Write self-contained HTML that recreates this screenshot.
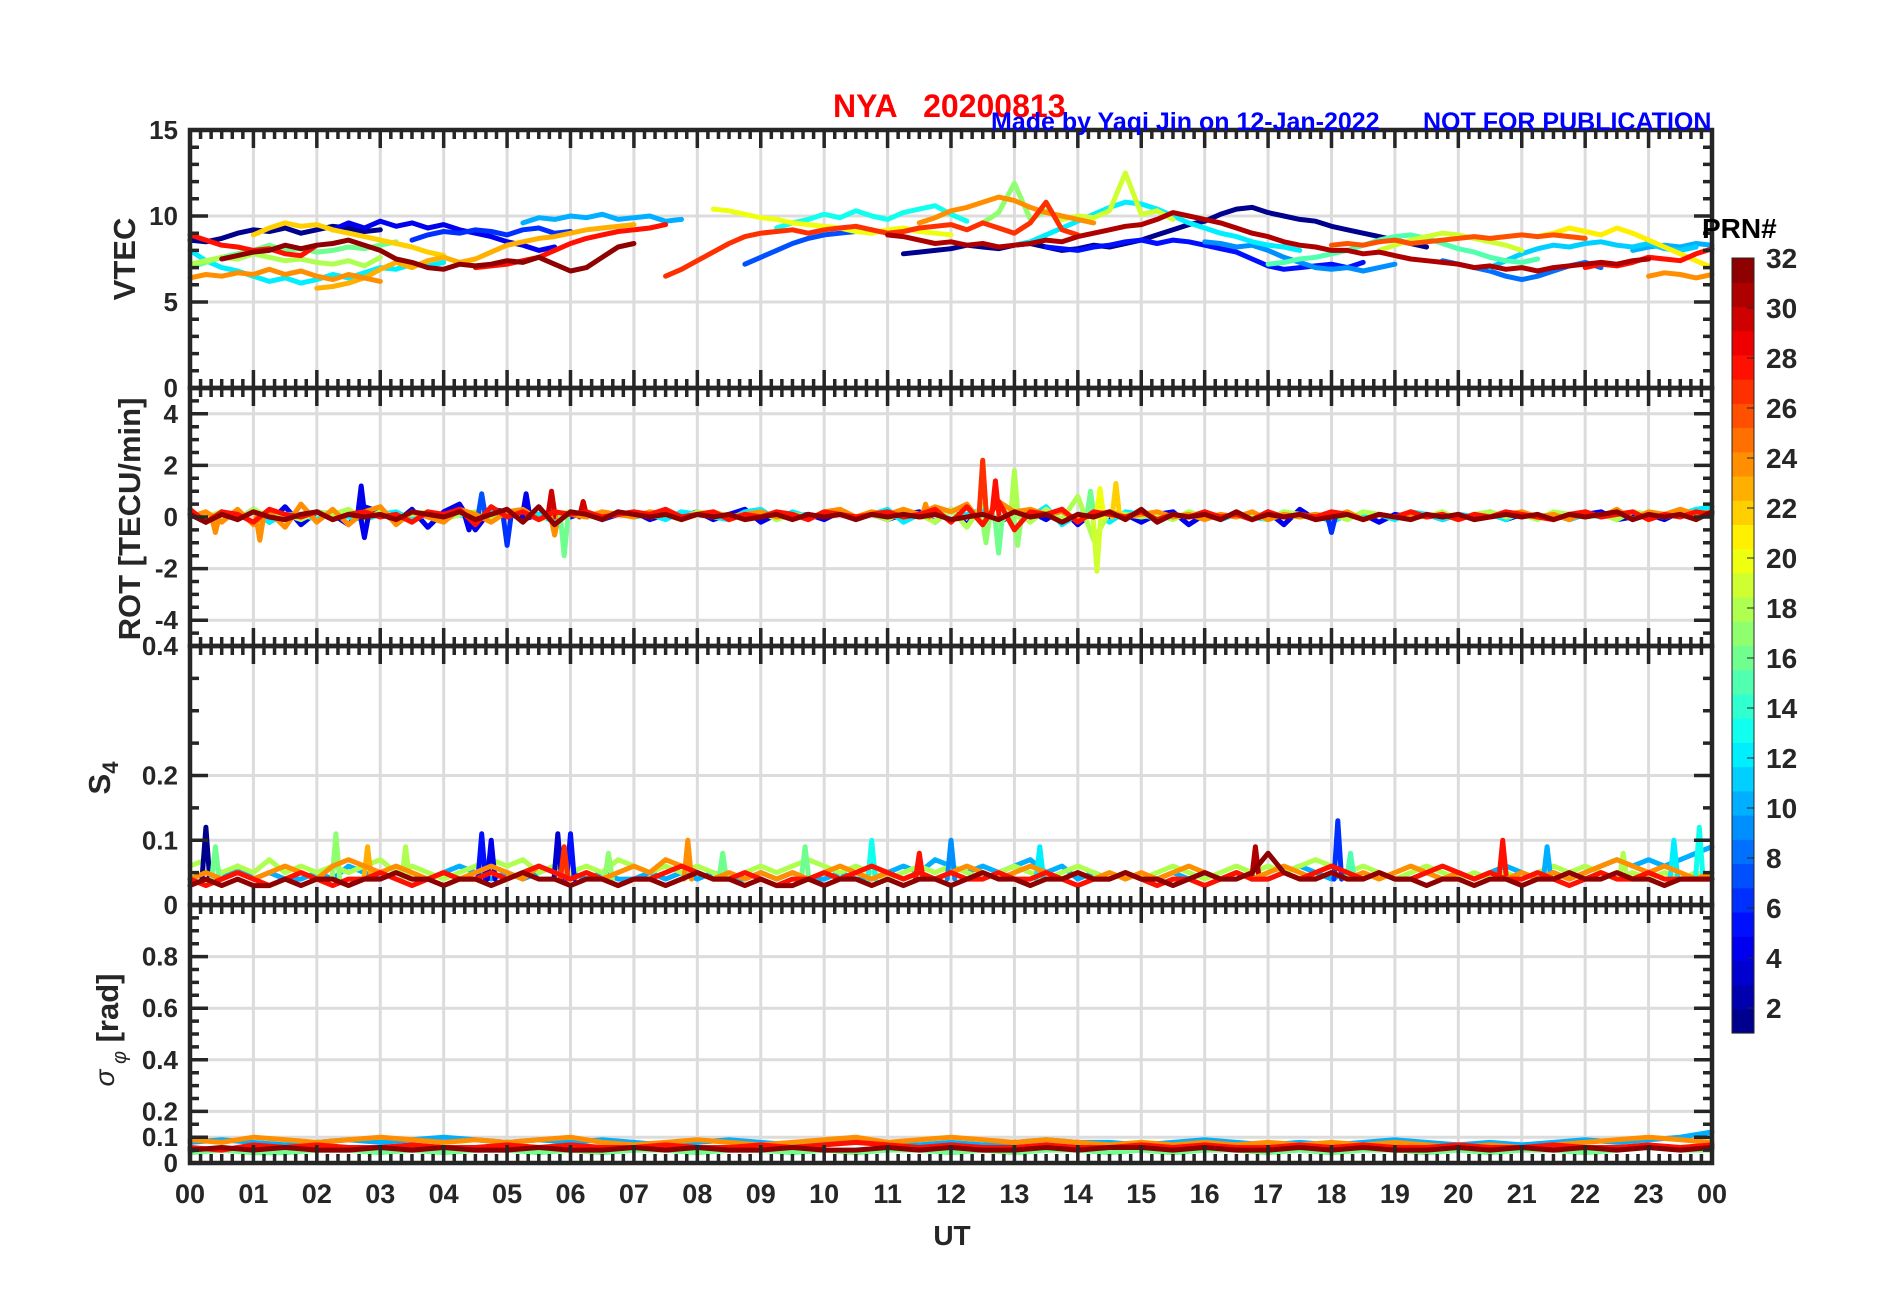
<!DOCTYPE html>
<html><head><meta charset="utf-8"><style>
html,body{margin:0;padding:0;background:#fff;}
svg{display:block;font-family:"Liberation Sans",Arial,sans-serif;font-weight:bold;}
</style></head><body>
<svg id="chart" width="1902" height="1292" viewBox="0 0 1902 1292" xmlns="http://www.w3.org/2000/svg">
<rect x="0" y="0" width="1902" height="1292" fill="#fff"/>
<g id="grid"></g>
<g id="series"></g>
<g id="axes"></g>
<g id="labels"></g>
<g id="cbar"></g>
<text x="833" y="117" font-size="32" fill="#ff0000" xml:space="preserve">NYA   20200813</text>
<text x="991" y="130" font-size="25" fill="#0000ff">Made by Yaqi Jin on 12-Jan-2022</text>
<text x="1423" y="130" font-size="25" fill="#0000ff">NOT FOR PUBLICATION</text>
<text transform="translate(135,259) rotate(-90)" text-anchor="middle" font-size="31" fill="#262626">VTEC</text>
<text transform="translate(140,519) rotate(-90)" text-anchor="middle" font-size="31" fill="#262626">ROT [TECU/min]</text>
<text transform="translate(110,778) rotate(-90)" text-anchor="middle" font-size="31" fill="#262626">S<tspan font-size="22" dy="8">4</tspan></text>
<text transform="translate(118,1030) rotate(-90)" text-anchor="middle" font-size="31" fill="#262626"><tspan font-style="italic" font-weight="normal" font-size="28" dy="-4">σ</tspan><tspan font-style="italic" font-weight="normal" font-size="20" dy="12"> φ</tspan><tspan dy="-8"> [rad]</tspan></text>
<text x="952" y="1245" text-anchor="middle" font-size="28" fill="#262626">UT</text>
<text x="1702" y="238" font-size="28" fill="#000">PRN#</text>
</svg>
<script>
// ---------- DATA ----------
const hourLabels = ["00","01","02","03","04","05","06","07","08","09","10","11","12","13","14","15","16","17","18","19","20","21","22","23","00"];
const vtecTicks = [0,5,10,15];
const rotTicks = [-4,-2,0,2,4];
const s4Ticks = [0,0.1,0.2,0.4];
const sigTicks = [0,0.1,0.2,0.4,0.6,0.8];
const cbarTicks = [2,4,6,8,10,12,14,16,18,20,22,24,26,28,30,32];

// VTEC series: PRN, start hour, values every 0.25 h
const vtecPrn   = [12,24,16,18,22,1,4,6,23,32,28,28,10,7,13,20,27,1,5,12,31,24,17,19,9,15,19,26,8,11,21,10,24,28];
const vtecStart = [0,0,0,0,1.0,0,2.25,3.5,2.0,0.5,0,4.5,5.25,8.75,9.25,8.25,7.5,11.25,13.5,13,11,11.5,12.5,13.75,16,17,18.75,18,19.75,20.5,21.25,22.75,23,22];
const vtecVals = [
 [8.0,7.4,7.0,6.8,6.5,6.2,6.4,6.1,6.3,6.6,6.4,6.7,7.0,6.9,7.2,7.1,7.3],
 [6.4,6.6,6.5,6.7,6.6,6.9,6.6,6.8,6.5,6.3,6.6,6.4,6.2],
 [7.0,7.3,7.6,7.8,8.0,8.3,8.0,8.1,7.9,8.0,8.2,8.1,8.3,8.5],
 [7.2,7.4,7.6,7.5,7.8,7.6,7.4,7.5,7.3,7.2,7.4,7.1,7.6],
 [8.9,9.3,9.6,9.4,9.5,9.2,9.0,8.8,8.6,8.4,8.2,7.9,7.7],
 [8.6,8.5,8.7,9.0,9.2,9.1,9.3,9.0,9.2,9.4,9.3,9.1,9.2],
 [9.2,9.6,9.3,9.7,9.4,9.6,9.3,9.5,9.2,9.0,8.8,8.5,8.3,8.0,8.2],
 [8.6,8.9,9.1,9.0,9.2,9.1,8.9,9.2,9.3,9.0,9.1],
 [5.8,5.9,6.1,6.4,6.9,7.3,7.0,7.4,7.6,7.3,7.5,7.9,8.3,8.5,8.7,8.8,9.0,9.2,9.3,9.4,9.5],
 [7.5,7.7,7.9,8.0,8.3,8.1,8.3,8.4,8.6,8.3,8.0,7.5,7.3,7.0,6.9,7.2,7.1,7.2,7.4,7.3,7.6,7.2,6.8,7.0,7.6,8.2,8.4],
 [8.9,8.6,8.3,8.2,8.0,8.1,7.8,7.7,8.3],
 [7.0,7.1,7.2,7.4,7.6,8.0,8.4,8.7,8.9,9.1,9.2,9.3,9.5],
 [9.6,9.9,9.8,10.0,9.9,10.1,9.8,9.9,10.0,9.7,9.8],
 [7.2,7.6,8.0,8.4,8.7,8.9,9.0,9.1,9.2],
 [9.3,9.6,9.8,10.1,9.9,10.3,10.0,9.8,10.2,10.4,10.6,10.1,9.7],
 [10.4,10.3,10.1,9.9,9.8,9.6,9.5,9.4,9.3,9.1,9.0,9.2,9.3,9.1,9.0,8.9],
 [6.5,6.9,7.4,7.9,8.4,8.8,9.0,9.1,9.2,9.0,9.2,9.3,9.4,9.2,9.0,9.1,9.3,9.4,9.5,9.2,9.6,9.3,9.0,9.6,10.8,9.2,8.9],
 [7.8,7.9,8.0,8.1,8.3,8.2,8.1,8.3,8.4,8.2,8.0,8.1,8.3,8.2,8.4,8.6,8.9,9.2,9.5,9.7,10.1,10.4,10.5,10.2,10.0,9.8,9.7,9.4,9.2,9.0,8.8,8.6,8.4,8.2],
 [8.2,8.1,8.0,8.2,8.3,8.5,8.6,8.4,8.6,8.5,8.3,8.1,7.9,7.5,7.1,6.9,7.0,7.1,7.2,7.0,7.3],
 [8.3,8.5,8.9,9.3,9.7,10.1,10.5,10.8,10.7,10.4,10.0,9.6,9.3,9.0,8.8,8.5,8.3,8.2,8.0],
 [8.9,8.8,8.6,8.4,8.5,8.3,8.4,8.2,8.3,8.4,8.6,8.5,8.8,9.0,9.2,9.4,9.5,9.8,10.2,10.0,9.8,9.6,9.3,9.0,8.8,8.5,8.3,8.2,8.0,8.0,7.8,7.9,7.7,7.5,7.4,7.3,7.2,7.0,7.1,6.9,7.0,6.8,7.0,7.1,7.2,7.3,7.2,7.4,7.5],
 [9.6,9.9,10.3,10.5,10.8,11.1,10.9,10.5,10.2,10.0,9.8,9.6],
 [9.6,10.2,11.9,9.8,10.3,9.8],
 [9.8,10.0,9.9,10.3,12.5,10.1,10.3,9.8],
 [8.5,8.4,8.2,8.3,8.0,7.6,7.3,7.0,6.9,7.0,6.8,7.0,7.2],
 [7.2,7.3,7.5,7.6,7.8,8.0,8.3,8.6,8.8,8.9,8.7,8.4,8.1,7.9,7.6,7.4,7.3,7.5],
 [8.0,8.3,8.6,8.8,9.0,8.9,8.7,8.5,8.3,8.0],
 [8.3,8.4,8.3,8.5,8.6,8.4,8.5,8.6,8.7,8.8,8.7,8.8,8.9,8.8,8.9,8.8,8.7],
 [7.4,7.2,7.0,6.8,6.5,6.3,6.5,6.8,7.1,7.3,7.0],
 [7.0,7.4,7.8,8.1,8.3,8.2,8.4,8.5,8.3,8.2,8.4,8.1,8.0,8.2],
 [8.8,9.0,9.3,9.1,8.9,9.3,9.0,8.6,8.2,7.8,7.4,7.0],
 [8.0,8.2,8.3,8.2,8.4,8.3],
 [6.5,6.7,6.6,6.4,6.6],
 [7.0,7.2,7.1,7.3,7.6,7.5,7.4,7.8,8.1]
];

// ROT noise series (values evenly spaced over 00-24 UT)
const rotPrn = [4,12,18,24,28,32];
const rotVals = [
 [0.1,-0.2,0.2,-0.1,0.3,-0.2,0.4,-0.3,0.2,0.1,-0.3,0.4,0.2,-0.2,0.3,-0.4,0.2,0.5,-0.5,0.3,0.2,-0.1,0.1,0.2,0,0.2,-0.1,0.1,0.2,-0.1,0.1,0,0.2,-0.1,0.1,0.3,-0.2,0.1,0,0.1,-0.1,0.2,0,0.1,-0.1,0.1,0.2,-0.2,0.3,-0.3,0.4,-0.2,0.1,0.2,-0.1,0.3,-0.3,0.2,0,0.1,-0.2,0.1,0.2,-0.3,0.1,0,0.1,-0.1,0.2,-0.3,0.3,-0.1,0.1,0,0.1,-0.2,0.1,0,0.1,-0.1,0.1,0,0.2,-0.1,0.1,0,0.1,-0.1,0.1,0.2,-0.1,0,0.1,-0.1,0.2,0.1,0.2],
 [0.2,-0.1,0.1,0,0.2,-0.2,0.1,0.1,-0.1,0.2,0,-0.1,0.1,0.2,-0.1,0.1,0,0.1,-0.1,0.2,0.1,0,0.1,-0.2,0.2,0.1,-0.1,0.2,0,0.1,-0.1,0.2,0.1,0,-0.1,0.2,0.3,-0.1,0.2,0,0.1,0.2,-0.1,0.1,0.3,-0.2,0.1,0.2,-0.1,0.1,0.3,-0.2,0.2,0,0.4,-0.3,0.1,0.2,-0.2,0.2,0.1,-0.1,0.1,0,0.2,-0.1,0.1,0,-0.1,0.2,0,0.1,-0.2,0.1,0,0.1,-0.1,0.2,0.1,-0.1,0.1,0,0.1,-0.1,0.2,0,0.1,-0.1,0.1,0,0.2,-0.1,0.1,0,0.1,0.3,0.4],
 [0.1,0,0.2,-0.1,0.3,0,0.1,-0.1,0.2,0.1,0.3,-0.1,0.2,0,0.1,0.2,-0.1,0.1,0.2,0,0.1,0.2,-0.1,0.1,0.2,0.1,0,0.1,0.2,0,0.1,-0.1,0.2,0.1,0,0.1,0.2,-0.1,0.1,0,0.1,0.2,0,0.1,-0.1,0.2,0.1,-0.2,0.3,-0.4,0.5,-0.3,0.4,-0.2,0.3,-0.1,0.8,-0.9,0.2,0.1,0,0.1,-0.1,0.2,0,0.1,0,0.1,-0.1,0.2,0.1,0,0.1,-0.1,0.2,0.1,0,0.1,0,0.2,-0.1,0.1,0.2,0,0.1,-0.1,0.2,0.1,0,0.1,-0.1,0.2,0.1,0,0.1,0.2,0.1],
 [0,0.2,-0.2,0.3,-0.3,0.2,-0.4,0.5,-0.2,0.3,-0.3,0.2,0.4,-0.3,0.2,0,-0.2,0.3,0.1,-0.2,0.2,0.3,-0.1,0.2,0.1,0,0.2,0.1,0,0.2,0.1,-0.1,0.1,0.2,0,0.1,0.2,0,0.1,-0.1,0.2,0.3,0,0.2,0.1,0.3,0.1,0.4,0.2,0.5,-0.3,0.6,0.2,0.3,0.1,0.2,-0.1,0.1,0.2,0,0.1,0.2,0,0.1,-0.1,0.1,0,0.2,-0.1,0.1,0,0.1,0,0.2,-0.1,0.1,0,0.1,0,0.1,-0.1,0.1,0,0.1,0.2,0,0.1,-0.1,0.2,0,0.3,-0.1,0.2,0.1,0.3,0.1,0.2],
 [0.3,-0.2,0.2,0.1,-0.2,0.3,0.1,0,0.2,-0.1,0.1,0.2,0,0.1,-0.2,0.2,0.1,0.3,-0.3,0.4,0,0.2,-0.1,0.2,0.1,0.2,0,0.1,0.2,0.1,0.3,0,0.1,0.2,-0.1,0.1,0,0.2,0.1,-0.1,0.2,0.1,0,0.1,0.2,0,0.1,0.3,-0.2,0.4,-0.3,0.6,-0.5,0.2,0.1,0.3,-0.2,0.2,0.1,0,0.2,-0.1,0.1,0,0.2,0,0.1,-0.1,0.2,0,0.1,0,0.2,0.1,-0.1,0.1,0,0.2,0,0.1,-0.1,0.1,0,0.2,0.1,0,-0.1,0.1,0.2,0,0.1,0.2,-0.1,0.1,0,0.2,0.1],
 [0.1,-0.2,0.1,-0.1,0.2,0,-0.1,0.1,0.2,-0.1,0.1,0,0.1,-0.1,0.2,0.1,0,0.2,-0.1,0.1,0.3,-0.2,0.4,-0.3,0.2,0.1,-0.1,0.2,0.1,0,0.1,-0.1,0.1,0,0.1,-0.1,0,0.1,-0.1,0.1,0,0.1,-0.1,0.1,0,0.1,0,0.1,-0.1,0,0.1,-0.1,0.2,0,0.1,-0.2,0.1,0,0.2,-0.1,0.3,-0.2,0.1,0,0.1,-0.1,0.2,-0.1,0.1,0,0.1,-0.1,0,0.1,-0.1,0.1,0,-0.1,0.1,0,0.1,-0.1,0,0.1,0,0.1,-0.1,0.1,0,0.1,0.2,-0.1,0.1,0,0.1,-0.1,0.2]
];
const rotSpikeT   = [0.4,1.1,2.7,2.75,4.6,5.0,5.3,5.7,5.75,5.9,12.5,12.55,12.7,12.75,13.0,13.05,14.2,14.3,14.35,14.6,6.2,18.0,4.4,11.6];
const rotSpikeV   = [-0.6,-0.9,1.2,-0.8,0.9,-1.1,0.9,1.0,-0.7,-1.5,2.2,-1.0,1.4,-1.4,1.8,-1.1,1.0,-2.1,1.1,1.3,0.6,-0.6,-0.5,0.5];
const rotSpikePrn = [24,24,4,4,7,6,4,30,24,16,27,17,28,16,18,17,16,19,20,22,30,6,4,24];

// S4 baseline series
const s4Prn = [10,18,24,28,32];
const s4Vals = [
 [0.04,0.05,0.04,0.06,0.04,0.05,0.04,0.04,0.05,0.04,0.06,0.05,0.04,0.05,0.04,0.04,0.05,0.06,0.05,0.04,0.05,0.04,0.05,0.06,0.05,0.04,0.05,0.04,0.04,0.05,0.04,0.05,0.04,0.05,0.04,0.04,0.05,0.04,0.05,0.04,0.04,0.05,0.04,0.04,0.05,0.06,0.05,0.07,0.06,0.05,0.06,0.05,0.06,0.07,0.05,0.06,0.04,0.05,0.04,0.05,0.04,0.04,0.05,0.04,0.05,0.04,0.05,0.04,0.04,0.05,0.06,0.05,0.04,0.05,0.04,0.05,0.04,0.04,0.05,0.04,0.05,0.04,0.05,0.06,0.05,0.04,0.05,0.04,0.05,0.06,0.07,0.06,0.07,0.06,0.07,0.08,0.09],
 [0.06,0.07,0.05,0.06,0.05,0.07,0.05,0.06,0.05,0.06,0.05,0.06,0.07,0.05,0.06,0.05,0.04,0.05,0.06,0.07,0.06,0.07,0.05,0.06,0.05,0.06,0.05,0.07,0.06,0.05,0.06,0.05,0.06,0.05,0.04,0.05,0.06,0.05,0.06,0.07,0.06,0.05,0.06,0.05,0.04,0.05,0.06,0.05,0.06,0.05,0.04,0.05,0.06,0.05,0.04,0.05,0.06,0.05,0.04,0.05,0.04,0.05,0.06,0.05,0.04,0.05,0.06,0.05,0.06,0.05,0.06,0.07,0.06,0.05,0.06,0.05,0.04,0.05,0.06,0.05,0.04,0.05,0.04,0.05,0.04,0.05,0.06,0.05,0.06,0.05,0.04,0.05,0.04,0.05,0.04,0.05,0.04],
 [0.04,0.05,0.04,0.05,0.04,0.05,0.06,0.05,0.04,0.06,0.07,0.06,0.05,0.06,0.05,0.04,0.05,0.04,0.05,0.06,0.05,0.04,0.06,0.05,0.04,0.05,0.04,0.05,0.06,0.05,0.07,0.06,0.05,0.04,0.05,0.04,0.05,0.04,0.05,0.04,0.05,0.06,0.05,0.04,0.05,0.04,0.05,0.04,0.05,0.06,0.05,0.04,0.05,0.06,0.05,0.04,0.05,0.04,0.05,0.04,0.05,0.04,0.05,0.06,0.05,0.04,0.05,0.04,0.05,0.06,0.05,0.04,0.05,0.04,0.05,0.04,0.05,0.06,0.05,0.04,0.05,0.04,0.05,0.04,0.05,0.04,0.05,0.04,0.05,0.06,0.07,0.06,0.05,0.06,0.05,0.04,0.05],
 [0.04,0.03,0.04,0.05,0.04,0.03,0.04,0.05,0.04,0.03,0.04,0.04,0.05,0.04,0.03,0.04,0.05,0.04,0.04,0.05,0.04,0.05,0.06,0.05,0.04,0.05,0.04,0.03,0.04,0.04,0.05,0.06,0.05,0.04,0.04,0.05,0.04,0.03,0.04,0.04,0.05,0.04,0.05,0.06,0.05,0.04,0.05,0.04,0.05,0.04,0.04,0.05,0.04,0.04,0.05,0.04,0.03,0.04,0.04,0.05,0.04,0.03,0.04,0.04,0.03,0.04,0.05,0.04,0.04,0.05,0.04,0.05,0.06,0.05,0.04,0.05,0.04,0.04,0.05,0.06,0.05,0.04,0.05,0.04,0.04,0.05,0.04,0.03,0.04,0.05,0.04,0.04,0.05,0.04,0.04,0.04,0.04],
 [0.03,0.04,0.03,0.04,0.03,0.03,0.04,0.03,0.04,0.04,0.03,0.04,0.04,0.05,0.04,0.04,0.03,0.04,0.04,0.03,0.04,0.05,0.04,0.04,0.03,0.04,0.04,0.03,0.04,0.04,0.03,0.04,0.05,0.04,0.04,0.03,0.04,0.03,0.03,0.04,0.03,0.04,0.04,0.03,0.04,0.03,0.04,0.04,0.03,0.04,0.05,0.04,0.04,0.03,0.04,0.04,0.05,0.04,0.04,0.05,0.04,0.04,0.03,0.04,0.05,0.04,0.04,0.05,0.08,0.05,0.04,0.04,0.05,0.04,0.04,0.05,0.04,0.04,0.03,0.04,0.04,0.03,0.04,0.04,0.03,0.04,0.04,0.05,0.04,0.04,0.05,0.04,0.04,0.03,0.04,0.04,0.04]
];
const s4SpikeT   = [0.25,0.4,2.3,2.8,3.4,4.6,4.75,5.8,6.0,5.9,6.6,7.85,8.4,9.7,10.75,11.5,12.0,13.4,16.8,18.1,18.3,20.7,21.4,22.6,23.8,23.4];
const s4SpikeV   = [0.12,0.09,0.11,0.09,0.09,0.11,0.10,0.11,0.11,0.09,0.08,0.10,0.08,0.09,0.10,0.08,0.10,0.09,0.09,0.13,0.08,0.10,0.09,0.08,0.12,0.10];
const s4SpikePrn = [1,16,17,23,18,5,4,3,5,27,17,24,16,16,13,28,9,12,31,6,15,28,10,18,13,12];

// sigma-phi baseline series
const sigPrn = [16,10,24,28,32];
const sigVals = [
 [0.04,0.05,0.04,0.04,0.05,0.05,0.04,0.05,0.04,0.05,0.05,0.04,0.05,0.04,0.05,0.05,0.04,0.05,0.05,0.04,0.05,0.04,0.05,0.05,0.04,0.05,0.04,0.05,0.05,0.04,0.05,0.04,0.05,0.05,0.04,0.05,0.04,0.05,0.05,0.04,0.05,0.04,0.05,0.05,0.04,0.05,0.06,0.05,0.05],
 [0.08,0.09,0.08,0.07,0.08,0.09,0.08,0.09,0.10,0.09,0.08,0.09,0.08,0.09,0.08,0.07,0.08,0.09,0.08,0.07,0.08,0.09,0.08,0.07,0.08,0.07,0.08,0.09,0.08,0.08,0.07,0.08,0.09,0.08,0.07,0.08,0.07,0.08,0.09,0.08,0.07,0.08,0.07,0.08,0.09,0.08,0.09,0.10,0.12],
 [0.09,0.08,0.10,0.09,0.08,0.09,0.10,0.09,0.08,0.09,0.08,0.09,0.10,0.08,0.07,0.08,0.09,0.08,0.07,0.08,0.09,0.10,0.08,0.09,0.10,0.09,0.08,0.09,0.08,0.07,0.08,0.07,0.08,0.07,0.08,0.07,0.08,0.07,0.08,0.07,0.06,0.07,0.06,0.07,0.08,0.09,0.10,0.09,0.08],
 [0.06,0.05,0.07,0.06,0.07,0.06,0.06,0.07,0.06,0.06,0.07,0.06,0.07,0.06,0.06,0.07,0.06,0.06,0.07,0.06,0.07,0.08,0.07,0.06,0.07,0.06,0.06,0.07,0.06,0.06,0.07,0.06,0.07,0.06,0.06,0.07,0.06,0.07,0.06,0.06,0.07,0.06,0.06,0.07,0.06,0.06,0.07,0.06,0.07],
 [0.05,0.06,0.05,0.06,0.05,0.05,0.06,0.05,0.06,0.05,0.05,0.06,0.05,0.05,0.06,0.05,0.06,0.05,0.05,0.06,0.05,0.05,0.06,0.05,0.06,0.05,0.05,0.06,0.05,0.06,0.06,0.05,0.06,0.05,0.05,0.06,0.05,0.06,0.05,0.05,0.06,0.05,0.06,0.05,0.06,0.05,0.06,0.05,0.06]
];

// ---------- LAYOUT ----------
const NS = "http://www.w3.org/2000/svg";
const X0 = 190, X1 = 1712;
const panels = [
  {name:"vtec", top:130, bot:388, min:0, max:15},
  {name:"rot",  top:388, bot:646, min:-5, max:5},
  {name:"s4",   top:646, bot:905, min:0, max:0.4},
  {name:"sigma",top:905, bot:1163, min:0, max:1}
];
const minorStep = [1,0.5,0.05,0.05];
const gridVals = [[5,10],[-4,-2,0,2,4],[0.1,0.2],[0.1,0.2,0.4,0.6,0.8]];
const tickLists = [vtecTicks, rotTicks, s4Ticks, sigTicks];
const INK = "#262626";

function xs(h){ return X0 + h*(X1-X0)/24; }
function ys(p,v){ const P=panels[p]; return P.bot - (v-P.min)/(P.max-P.min)*(P.bot-P.top); }
function jet(prn){
  const x = (prn-0.5)/32;
  const c = t => Math.round(255*Math.max(0,Math.min(1,t)));
  return `rgb(${c(1.5-Math.abs(4*x-3))},${c(1.5-Math.abs(4*x-2))},${c(1.5-Math.abs(4*x-1))})`;
}
function mk(tag, attrs, parent){
  const e = document.createElementNS(NS, tag);
  for (const k in attrs) e.setAttribute(k, attrs[k]);
  parent.appendChild(e);
  return e;
}
const gGrid = document.getElementById("grid");
const gSer = document.getElementById("series");
const gAx = document.getElementById("axes");
const gLab = document.getElementById("labels");
const gCb = document.getElementById("cbar");

// grid
panels.forEach((P,p)=>{
  for (let h=1; h<24; h++){
    const l = mk("line",{x1:xs(h),x2:xs(h),y1:P.top,y2:P.bot,stroke:"#dcdcdc","stroke-width":3},gGrid);
    
    
  }
  gridVals[p].forEach(v=>{
    const l = mk("line",{x1:X0,x2:X1,y1:ys(p,v),y2:ys(p,v),stroke:"#dcdcdc","stroke-width":3},gGrid);
    
    
  });
});

function drawLine(p, ts, vs, prn, name){
  const pts = ts.map((t,i)=> xs(t).toFixed(1)+","+ys(p,vs[i]).toFixed(1)).join(" ");
  const pl = mk("polyline",{points:pts,fill:"none",stroke:jet(prn),"stroke-width":5,"stroke-linejoin":"round","stroke-linecap":"round"},gSer);
  
  
}

// VTEC
const vOrder = vtecPrn.map((p,i)=>i).sort((a,b)=>vtecPrn[a]-vtecPrn[b]);
vOrder.forEach(i=>{
  const ts = vtecVals[i].map((v,k)=> vtecStart[i]+k*0.25);
  drawLine(0, ts, vtecVals[i], vtecPrn[i], 'vtec-prn-'+vtecPrn[i]);
});
function evenSeries(p, prns, vals, label){
  prns.forEach((prn,i)=>{
    const n = vals[i].length;
    const ts = vals[i].map((v,k)=> k*24/(n-1));
    drawLine(p, ts, vals[i], prn, label+'-prn-'+prn);
  });
}
function spikes(p, T, V, PR, base, label){
  T.forEach((t,i)=>{
    drawLine(p, [t-0.06,t,t+0.06], [base,V[i],base], PR[i], label+'-spike-prn-'+PR[i]);
  });
}
evenSeries(1, rotPrn.slice(0,3), rotVals.slice(0,3), 'rot');
spikes(1, rotSpikeT, rotSpikeV, rotSpikePrn, 0, 'rot');
evenSeries(1, rotPrn.slice(3), rotVals.slice(3), 'rot');
evenSeries(2, s4Prn.slice(0,2), s4Vals.slice(0,2), 's4');
spikes(2, s4SpikeT, s4SpikeV, s4SpikePrn, 0.04, 's4');
evenSeries(2, s4Prn.slice(2), s4Vals.slice(2), 's4');
evenSeries(3, sigPrn, sigVals, 'sigma-phi');

// axes boxes and ticks
panels.forEach((P,p)=>{
  const r = mk("rect",{x:X0,y:P.top,width:X1-X0,height:P.bot-P.top,fill:"none",stroke:INK,"stroke-width":4.5},gAx);
  
  
  let d = "";
  for (let k=0;k<=144;k++){
    const x = xs(k/6), L = (k%6===0)?18:9;
    d += `M${x},${P.top}v${L}M${x},${P.bot}v${-L}`;
  }
  const st = minorStep[p];
  const nT = Math.round((P.max-P.min)/st);
  for (let k=0;k<=nT;k++){
    const v = P.min + k*st, y = ys(p,v);
    const major = tickLists[p].some(t=>Math.abs(t-v)<1e-6);
    const L = major?18:9;
    d += `M${X0},${y}h${L}M${X1},${y}h${-L}`;
  }
  const path = mk("path",{d:d,stroke:INK,"stroke-width":3.5,fill:"none"},gAx);
  
  
  tickLists[p].forEach(v=>{
    const t = mk("text",{x:178,y:ys(p,v)+9,"text-anchor":"end","font-size":26,fill:INK},gLab);
    t.textContent = String(v);
    
    
  });
});
hourLabels.forEach((s,h)=>{
  const t = mk("text",{x:xs(h),y:1203,"text-anchor":"middle","font-size":27,fill:INK},gLab);
  t.textContent = s;
  
  
});

// colorbar
const CB = {x:1732, w:22, top:258, bot:1033};
for (let prn=1; prn<=32; prn++){
  const h = (CB.bot-CB.top)/32;
  const r = mk("rect",{x:CB.x,y:CB.bot-prn*h,width:CB.w,height:h+0.6,fill:jet(prn)},gCb);
  
  
}
const cbBox = mk("rect",{x:CB.x,y:CB.top,width:CB.w,height:CB.bot-CB.top,fill:"none",stroke:INK,"stroke-width":1},gCb);


function cbY(v){ return CB.bot - (v-1)/31*(CB.bot-CB.top); }
cbarTicks.forEach(v=>{
  const y = cbY(v);
  const tk = mk("line",{x1:CB.x+CB.w-7,x2:CB.x+CB.w,y1:y,y2:y,stroke:INK,"stroke-width":1},gCb);
  
  
  const t = mk("text",{x:1766,y:y+10,"font-size":28,fill:INK},gCb);
  t.textContent = String(v);
  
  
});
</script>
</body></html>
